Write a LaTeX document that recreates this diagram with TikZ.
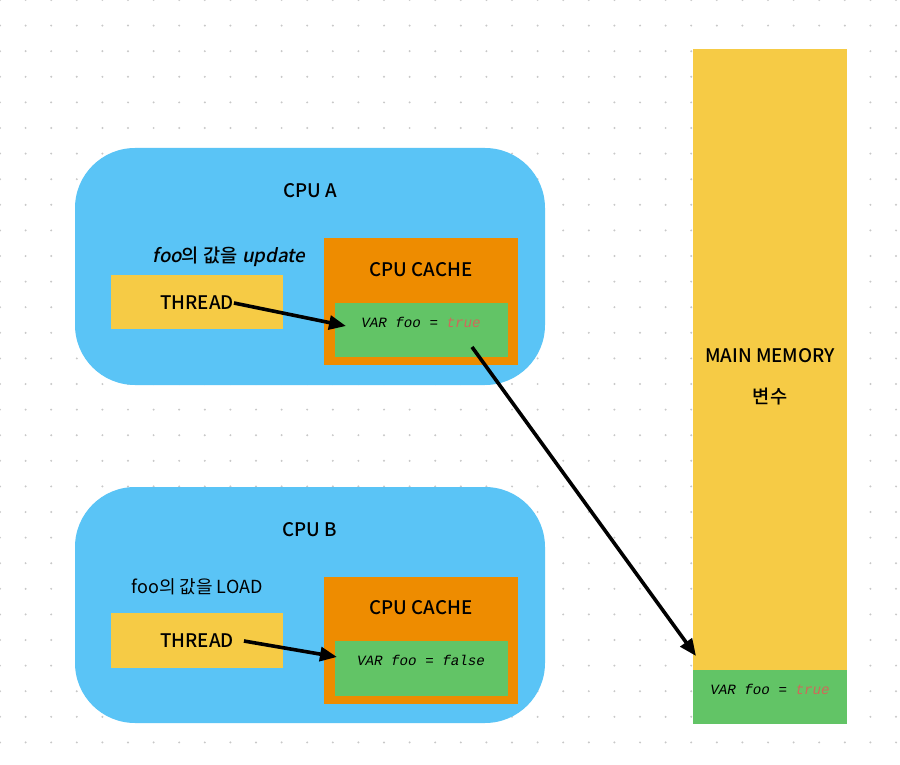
\documentclass[tikz,border=0pt]{standalone}
\usepackage{fontspec}
\usetikzlibrary{arrows.meta}
\setmainfont{Noto Sans CJK KR}
\newfontfamily\krm{Noto Sans CJK KR Medium}
\newfontfamily\krmi[FakeSlant=0.2]{Noto Sans CJK KR Medium}
\setmonofont{Liberation Mono}
\definecolor{cpublue}{HTML}{5AC4F6}
\definecolor{thyellow}{HTML}{F6CB45}
\definecolor{cacheorange}{HTML}{EE8C00}
\definecolor{vargreen}{HTML}{62C466}
\definecolor{truered}{HTML}{D0695A}
\definecolor{dotgray}{HTML}{C8C8C8}
\tikzset{
  cpubox/.style={fill=cpublue, rounded corners=60pt, minimum width=470pt, inner sep=0pt},
  thbox/.style={fill=thyellow, minimum width=172pt, inner sep=0pt},
  cachebox/.style={fill=cacheorange, minimum width=194pt, minimum height=127pt, inner sep=0pt},
  varbox/.style={fill=vargreen, minimum width=173pt, inner sep=0pt},
  lbl/.style={font=\krm\fontsize{18.7}{22}\selectfont, inner sep=0pt},
  plainlbl/.style={font=\fontsize{18}{21}\selectfont, inner sep=0pt},
  vartxt/.style={font=\ttfamily\itshape\fontsize{14.2}{17}\selectfont, inner sep=0pt},
  flow/.style={line width=3.6pt, -{Triangle[length=17pt,width=14pt]}}
}
\begin{document}
\begin{tikzpicture}[x=1pt,y=-1pt]
\useasboundingbox (0,0) rectangle (900,765);
\fill[white] (0,0) rectangle (900,765);
\foreach \i in {0,...,35}{\foreach \j in {0,...,30}{\fill[dotgray] (\i*25.6,\j*25.6) circle (1.1pt);}}
% CPU A
\node[cpubox, minimum height=237pt] (cpuA) at (310,266.5) {};
\node[lbl] (cpuAlbl) at (310,191) {CPU A};
\node[lbl] (updA) at (229,257) {{\krmi foo}의 값을 {\krmi update}};
\node[thbox, minimum height=54pt] (thA) at (197,302) {};
\node[lbl] (thAtxt) at (197,303) {THREAD};
\node[cachebox] (cacheA) at (421,301.5) {};
\node[lbl] (cacheAlbl) at (421,270) {CPU CACHE};
\node[varbox, minimum height=54pt] (varA) at (421.5,330) {};
\node[vartxt] (varAtxt) at (421,322) {VAR foo = \textcolor{truered}{true}};
% CPU B
\node[cpubox, minimum height=236pt] (cpuB) at (310,605) {};
\node[lbl] (cpuBlbl) at (310,530) {CPU B};
\node[plainlbl] (loadB) at (197,587) {foo의 값을 LOAD};
\node[thbox, minimum height=55pt] (thB) at (197,640.5) {};
\node[lbl] (thBtxt) at (197,641) {THREAD};
\node[cachebox] (cacheB) at (421,640.5) {};
\node[lbl] (cacheBlbl) at (421,608) {CPU CACHE};
\node[varbox, minimum height=55pt] (varB) at (421.5,668.5) {};
\node[vartxt] (varBtxt) at (421,660) {VAR foo = false};
% Main memory
\node[fill=thyellow, minimum width=154pt, minimum height=621pt, inner sep=0pt] (mem) at (770,359.5) {};
\node[lbl] (memlbl) at (770,356) {MAIN MEMORY};
\node[lbl] (memvar) at (770,397) {변수};
\node[fill=vargreen, minimum width=154pt, minimum height=54pt, inner sep=0pt] (memv) at (770,697) {};
\node[vartxt] (memvtxt) at (770,689) {VAR foo = \textcolor{truered}{true}};
% arrows
\coordinate (aEnd) at (346,326);
\coordinate (bEnd) at (337,657);
\coordinate (cStart) at (472,347);
\coordinate (cEnd) at (696,656);
\draw[flow] (thAtxt.east) -- (aEnd);
\draw[flow] ([xshift=10pt]thBtxt.east) -- (bEnd);
\draw[flow] (cStart) -- (cEnd);
\end{tikzpicture}
\end{document}
